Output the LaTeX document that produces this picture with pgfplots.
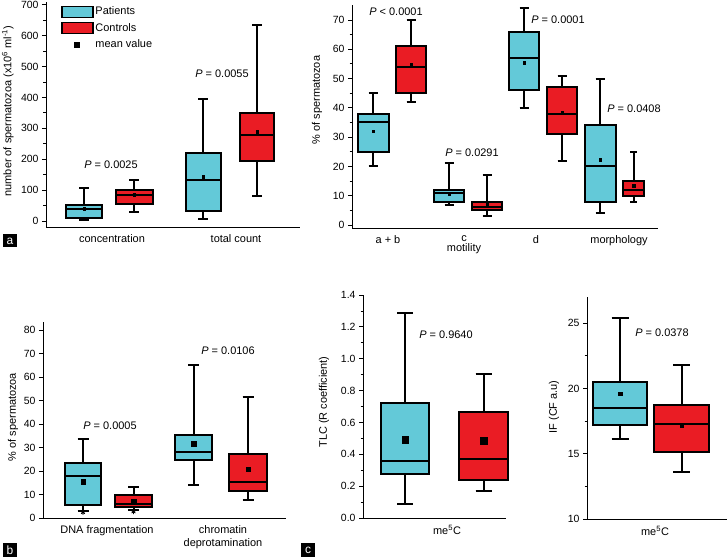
\documentclass[border=0pt]{standalone}
\usepackage{pgfplots}
\pgfplotsset{compat=1.18}
\usepgfplotslibrary{statistics}
\usepackage{fontspec}
\setmainfont{Liberation Sans}
\definecolor{cyanc}{RGB}{99,201,216}
\definecolor{redc}{RGB}{234,28,36}
\newcommand{\tk}{\fontsize{10.5}{12}\selectfont}
\newcommand{\lb}{\fontsize{11}{13}\selectfont}
\pgfplotsset{
 panel/.style={scale only axis, anchor=south west, axis lines*=left,
   axis line style={line width=0.9bp,black},
   tick align=outside, major tick length=4bp, minor tick length=2.5bp,
   every tick/.style={black,line width=0.8bp},
   xtick style={draw=none},
   yticklabel style={font=\tk},
   xticklabel style={font=\lb},
   label style={font=\lb},
   /pgf/number format/assume math mode=true,
   boxplot/draw direction=y,
   boxplot/every box/.style={draw=black, line width=2bp},
   boxplot/every whisker/.style={draw=black, line width=2bp},
   boxplot/every median/.style={draw=black, line width=2bp},
   clip=false},
 pb/.style={draw=black, fill=cyanc, line width=2bp, solid, forget plot},
 cb/.style={draw=black, fill=redc, line width=2bp, solid, forget plot},
 meanm/.style={only marks, mark=square*, black, mark size=#1, forget plot},
}
\begin{document}
\begin{tikzpicture}
\path[use as bounding box] (0,0) rectangle (728bp,557bp);

% ---------- panel a : counts ----------
\begin{axis}[panel, at={(46bp,330bp)}, width=254bp, height=225bp,
  xmin=46, xmax=300, ymin=-19.4, ymax=709,
  ytick={0,100,...,700}, minor y tick num=1,
  xtick={112,236}, xticklabels={concentration,total count},
  ylabel={number of spermatozoa (x10\textsuperscript{6} ml\textsuperscript{-1})},
  ylabel style={at={(axis description cs:-0.150,0.515)}, anchor=center},
  legend style={at={(axis cs:61,700)}, anchor=north west, draw=none, fill=none,
    font=\lb, inner sep=0pt, row sep=3bp},
  legend cell align=left]
\addlegendimage{legend image code/.code={\draw[fill=cyanc,draw=black,line width=1.3bp] (0bp,-5.5bp) rectangle (31bp,5.5bp);}}
\addlegendentry{Patients}
\addlegendimage{legend image code/.code={\draw[fill=redc,draw=black,line width=1.3bp] (0bp,-5.5bp) rectangle (31bp,5.5bp);}}
\addlegendentry{Controls}
\addlegendimage{legend image code/.code={\path[draw=none,fill=none] (0bp,-3bp) rectangle (31bp,3bp); \fill[black] (12.5bp,-2.5bp) rectangle (17.5bp,2.5bp);}}
\addlegendentry{mean value}
\addplot[pb, boxplot prepared={median=40, upper quartile=51, lower quartile=9, upper whisker=107, lower whisker=3, draw position=84, box extend=36, whisker extend=10}] coordinates {};
\addplot[cb, boxplot prepared={median=85, upper quartile=100, lower quartile=56, upper whisker=132, lower whisker=28, draw position=134, box extend=37, whisker extend=10}] coordinates {};
\addplot[pb, boxplot prepared={median=134, upper quartile=219, lower quartile=31, upper whisker=396, lower whisker=8, draw position=203, box extend=35, whisker extend=10}] coordinates {};
\addplot[cb, boxplot prepared={median=277, upper quartile=351, lower quartile=195, upper whisker=636, lower whisker=80, draw position=257, box extend=34, whisker extend=10}] coordinates {};
\addplot[meanm=1.3bp] coordinates {(84,40) (134,85) (203,143) (257,290)};
\end{axis}

% ---------- panel a : motility ----------
\begin{axis}[panel, at={(352bp,329bp)}, width=306bp, height=223bp,
  xmin=352, xmax=658, ymin=-1.02, ymax=75.1,
  ytick={0,10,...,70}, minor y tick num=1,
  xtick={388,464,536,619}, xticklabels={a + b,c,d,morphology},
  ylabel={\% of spermatozoa},
  ylabel style={at={(axis description cs:-0.114,0.574)}, anchor=center},
  xlabel={motility},
  xlabel style={at={(axis description cs:0.366,-0.094)}, anchor=center}]
\addplot[pb, boxplot prepared={median=35, upper quartile=38, lower quartile=25, upper whisker=45, lower whisker=20, draw position=373, box extend=31, whisker extend=9}] coordinates {};
\addplot[cb, boxplot prepared={median=54, upper quartile=61, lower quartile=45, upper whisker=70, lower whisker=42, draw position=411, box extend=30, whisker extend=9}] coordinates {};
\addplot[pb, boxplot prepared={median=11, upper quartile=12, lower quartile=8, upper whisker=21, lower whisker=7, draw position=449, box extend=30, whisker extend=9}] coordinates {};
\addplot[cb, boxplot prepared={median=6, upper quartile=8, lower quartile=5, upper whisker=17, lower whisker=3, draw position=487, box extend=30, whisker extend=9}] coordinates {};
\addplot[pb, boxplot prepared={median=57, upper quartile=66, lower quartile=46, upper whisker=74, lower whisker=40, draw position=524, box extend=30, whisker extend=9}] coordinates {};
\addplot[cb, boxplot prepared={median=38, upper quartile=47, lower quartile=31, upper whisker=51, lower whisker=22, draw position=562, box extend=30, whisker extend=9}] coordinates {};
\addplot[pb, boxplot prepared={median=20, upper quartile=34, lower quartile=8, upper whisker=50, lower whisker=4, draw position=600, box extend=31, whisker extend=9}] coordinates {};
\addplot[cb, boxplot prepared={median=12, upper quartile=15, lower quartile=10, upper whisker=25, lower whisker=8, draw position=633.5, box extend=21, whisker extend=7}] coordinates {};
\addplot[meanm=1.3bp] coordinates {(373,32) (411,54.7) (449,10.5) (487,7) (524,55.5) (562,38.5) (600,22.3) (633.5,13.5)};
\end{axis}

% ---------- panel b ----------
\begin{axis}[panel, at={(43bp,39bp)}, width=243bp, height=196bp,
  xmin=43, xmax=286, ymin=0, ymax=83.4,
  ytick={0,10,...,80},
  xtick={107,223}, xticklabels={DNA fragmentation,chromatin\\deprotamination},
  xticklabel style={align=center},
  ylabel={\% of spermatozoa},
  ylabel style={at={(axis description cs:-0.123,0.515)}, anchor=center}]
\addplot[pb, boxplot prepared={median=18, upper quartile=23.4, lower quartile=5.4, upper whisker=33.5, lower whisker=3, draw position=83, box extend=36, whisker extend=11}] coordinates {};
\addplot[cb, boxplot prepared={median=6, upper quartile=9.7, lower quartile=4.7, upper whisker=13.2, lower whisker=3.3, draw position=133.5, box extend=37, whisker extend=11}] coordinates {};
\addplot[pb, boxplot prepared={median=28, upper quartile=35.5, lower quartile=24.6, upper whisker=65.3, lower whisker=14.2, draw position=193.5, box extend=37, whisker extend=11}] coordinates {};
\addplot[cb, boxplot prepared={median=15.3, upper quartile=27.3, lower quartile=11.4, upper whisker=51.6, lower whisker=7.5, draw position=248, box extend=38, whisker extend=11}] coordinates {};
\addplot[meanm=2.2bp] coordinates {(83,15.5) (133.5,7.2) (193.5,31.7) (248,20.7)};
\addplot[only marks, mark=asterisk, mark size=2.2bp, black, line width=0.8bp, forget plot] coordinates {(83,2.3) (133.5,2.6)};
\end{axis}

% ---------- panel c : TLC  (x in units of 10 px) ----------
\begin{axis}[panel, at={(363bp,39bp)}, width=143bp, height=223bp,
  xmin=36.3, xmax=50.6, ymin=0, ymax=1.4,
  ytick={0,0.2,...,1.4}, minor y tick num=1,
  yticklabel style={/pgf/number format/.cd, fixed, fixed zerofill, precision=1},
  xtick={44.7}, xticklabels={me\textsuperscript{5}C},
  ylabel={TLC (R coefficient)},
  ylabel style={at={(axis description cs:-0.273,0.52)}, anchor=center}]
\addplot[pb, boxplot prepared={median=0.355, upper quartile=0.725, lower quartile=0.278, upper whisker=1.285, lower whisker=0.09, draw position=40.5, box extend=4.8, whisker extend=1.6}] coordinates {};
\addplot[cb, boxplot prepared={median=0.37, upper quartile=0.667, lower quartile=0.238, upper whisker=0.905, lower whisker=0.17, draw position=48.35, box extend=4.9, whisker extend=1.6}] coordinates {};
\addplot[meanm=3.3bp] coordinates {(40.5,0.49) (48.35,0.487)};
\end{axis}

% ---------- panel c : IF ----------
\begin{axis}[panel, at={(587bp,38bp)}, width=140bp, height=222bp,
  xmin=587, xmax=727, ymin=10, ymax=27,
  ytick={10,15,20,25}, minor y tick num=1,
  xtick={655}, xticklabels={me\textsuperscript{5}C},
  ylabel={IF (CF a.u)},
  ylabel style={at={(axis description cs:-0.236,0.505)}, anchor=center}]
\addplot[pb, boxplot prepared={median=18.47, upper quartile=20.5, lower quartile=17.2, upper whisker=25.4, lower whisker=16.1, draw position=620, box extend=54, whisker extend=17}] coordinates {};
\addplot[cb, boxplot prepared={median=17.27, upper quartile=18.7, lower quartile=15.1, upper whisker=21.8, lower whisker=13.6, draw position=681.5, box extend=55, whisker extend=17}] coordinates {};
\addplot[meanm=1.8bp] coordinates {(620,19.6) (681.5,17.15)};
\end{axis}

% ---------- annotations ----------
\begin{scope}[every node/.style={font=\lb, inner sep=0pt}]
\node at (111bp,392bp) {\textit{P} = 0.0025};
\node at (222bp,483bp) {\textit{P} = 0.0055};
\node at (396bp,545bp) {\textit{P} < 0.0001};
\node at (472bp,404bp) {\textit{P} = 0.0291};
\node at (558bp,537bp) {\textit{P} = 0.0001};
\node at (634bp,448bp) {\textit{P} = 0.0408};
\node at (110bp,131bp) {\textit{P} = 0.0005};
\node at (228bp,206bp) {\textit{P} = 0.0106};
\node at (446bp,222bp) {\textit{P} = 0.9640};
\node at (662bp,224bp) {\textit{P} = 0.0378};
\end{scope}
\begin{scope}[every node/.style={fill=black, text=white, inner sep=0pt, minimum width=14bp, minimum height=13bp, font=\fontsize{12}{12}\selectfont}]
\node at (10bp,316bp) {a};
\node at (10bp,7bp) {b};
\node at (308bp,7bp) {c};
\end{scope}
\end{tikzpicture}
\end{document}
